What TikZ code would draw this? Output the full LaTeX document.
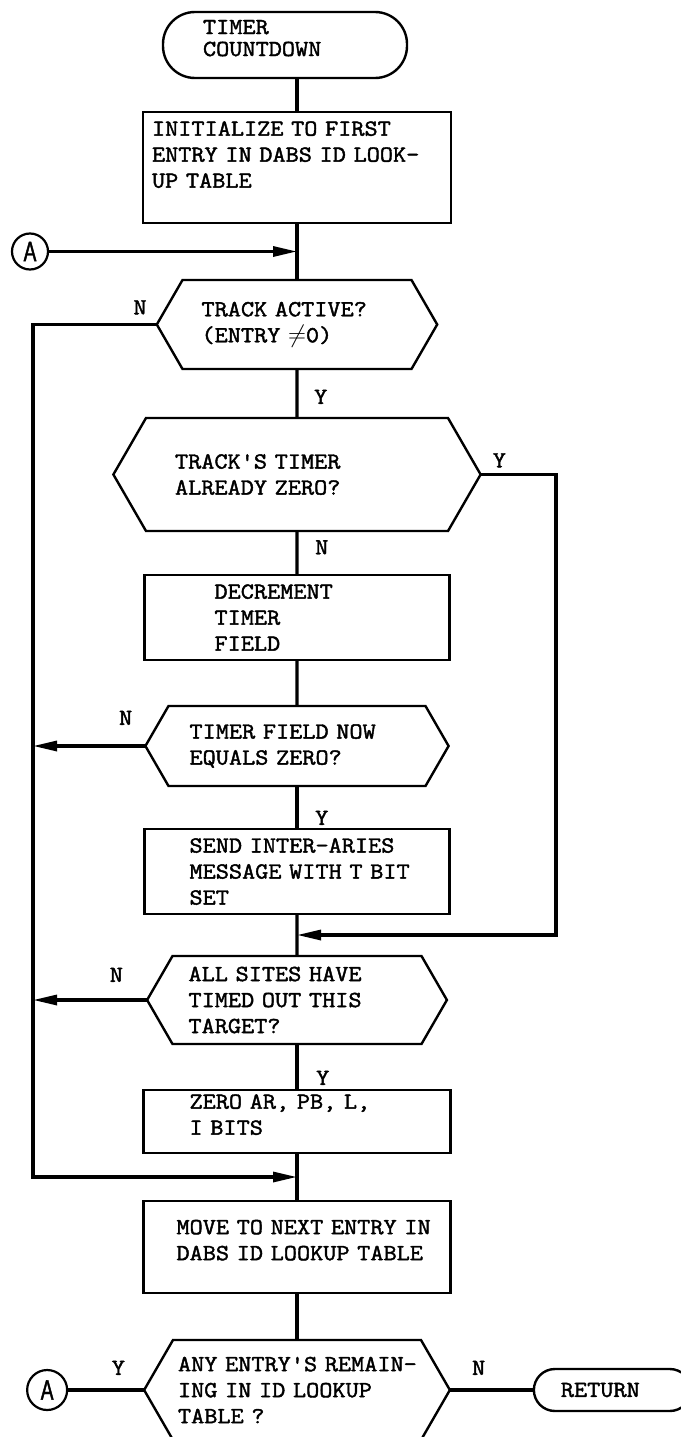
\documentclass[tikz,border=0pt]{standalone}
\usepackage{fontspec}
\usepackage{tikz}
\usetikzlibrary{arrows.meta,positioning,calc,shapes.symbols}
\newfontfamily\flowfont{Latin Modern Mono}[FakeBold=1.8,FakeStretch=1.11]
\newfontfamily\connfont{Liberation Sans}[FakeStretch=0.68,FakeBold=1.5]

\begin{document}
\begin{tikzpicture}[x=1pt, y=-1pt,
    txt/.style={font=\flowfont\fontsize{23}{26}\selectfont, align=left, outer sep=0pt},
    term/.style={txt, draw, line width=2.4pt, rounded corners=#1},
    box/.style={txt, draw, line width=2.4pt},
    decision/.style={txt, draw, line width=2.4pt, shape=signal,
                     signal to=west and east, signal pointer angle=120},
    conn/.style={draw, circle, line width=2.2pt, inner sep=0pt, outer sep=0pt,
                 font=\connfont\fontsize{28}{28}\selectfont},
    lbl/.style={font=\flowfont\fontsize{23}{26}\selectfont, inner sep=0pt},
    flow/.style={line width=3.2pt},
    arr/.style={flow, -{Triangle[length=24pt,width=10pt]}}]
    \useasboundingbox (0,0) rectangle (680,1437);

    \node[box, text width=290pt, inner xsep=9pt, minimum height=111pt] (init) at (297,167.5)
        {INITIALIZE TO FIRST\\\mbox{ENTRY IN DABS ID LOOK-}\\UP TABLE\\\mbox{}};
    \node[term=32pt, text width=164pt, inner xsep=40pt, minimum height=66pt,
          above=34pt of init, xshift=-12pt] (tc) {TIMER\\[-4pt]COUNTDOWN\\[-12pt]\mbox{}};
    \node[decision, text width=191pt, inner xsep=19pt, minimum height=89pt,
          below=57pt of init] (d1) {TRACK ACTIVE?\\(ENTRY $\neq$0)};
    \node[decision, text width=244pt, inner xsep=29pt, minimum height=113pt,
          below=49pt of d1] (d2) {TRACK'S TIMER\\ALREADY ZERO?};
    \node[box, text width=165pt, inner xsep=70pt, minimum height=85pt,
          below=44pt of d2] (dec) {DECREMENT\\TIMER\\FIELD};
    \node[decision, text width=215pt, inner xsep=21pt, minimum height=80pt,
          below=46pt of dec] (d3) {TIMER FIELD NOW\\EQUALS ZERO?};
    \node[box, text width=215pt, inner xsep=45pt, minimum height=85pt,
          below=43pt of d3] (send) {\mbox{SEND INTER-ARIES}\\\mbox{MESSAGE WITH T BIT}\\SET};
    \node[decision, text width=217pt, inner xsep=16pt, minimum height=88pt,
          below=42pt of send] (d4) {ALL SITES HAVE\\TIMED OUT THIS\\TARGET?};
    \node[box, text width=215pt, inner xsep=46pt, minimum height=63pt,
          below=46pt of d4] (zero) {\mbox{ZERO AR, PB, L,}\\I BITS\\[-12pt]\mbox{}};
    \node[box, text width=241pt, inner xsep=33pt, minimum height=92pt,
          below=48pt of zero] (move) {\mbox{MOVE TO NEXT ENTRY IN}\\\mbox{DABS ID LOOKUP TABLE}\\[-12pt]\mbox{}};
    \node[decision, text width=238pt, inner xsep=5pt, minimum height=100pt,
          below=47pt of move] (d5) {\mbox{ANY ENTRY'S REMAIN-}\\\mbox{ING IN ID LOOKUP}\\TABLE ?};
    \node[term=21pt, text width=103pt, inner xsep=27pt, minimum height=42pt,
          right=84pt of d5] (ret) {RETURN};
    \node[conn, minimum size=40pt, left=77pt of d5] (abot) {A};

    \coordinate (ja) at ($(init.south)!0.5!(d1.north)$);
    \coordinate (jb) at ($(send.south)!0.5!(d4.north)$);
    \coordinate (jc) at ($(zero.south)!0.5!(move.north)$);
    \coordinate (lft) at (33,0);
    \coordinate (rgt) at (556,0);
    \node[conn, minimum size=36pt, left=249pt of ja] (atop) {A};

    \draw[flow] (init.north |- tc.south) -- (init.north);
    \draw[flow] (init) -- (d1);
    \draw[arr] (atop) -- (ja);
    \draw[flow] (d1) -- (d2);
    \draw[flow] (d2) -- (dec);
    \draw[flow] (dec) -- (d3);
    \draw[flow] (d3) -- (send);
    \draw[flow] (send) -- (d4);
    \draw[flow] (d4) -- (zero);
    \draw[flow] (zero) -- (move);
    \draw[flow] (move) -- (d5);
    \draw[arr] (d1.west) -| (lft |- jc) -- (jc);
    \draw[arr] (d3.west) -- (d3.west -| lft);
    \draw[arr] (d4.west) -- (d4.west -| lft);
    \draw[arr] (d2.east) -| (rgt |- jb) -- (jb);
    \draw[flow] (d5.west) -- (abot.east);
    \draw[flow] (d5.east) -- (ret.west);

    \node[lbl, above left=10pt and 10pt of d1.west] (n1) {N};
    \node[lbl, above right=14pt and 17pt of d2.north] (y1) {Y};
    \node[lbl, above right=7pt and 12pt of d2.east] (y2) {Y};
    \node[lbl, below right=9pt and 18pt of d2.south] (n2) {N};
    \node[lbl, above left=21pt and 13pt of d3.west] (n3) {N};
    \node[lbl, above right=4pt and 18pt of send.north] (y3) {Y};
    \node[lbl, above left=18pt and 24pt of d4.west] (n4) {N};
    \node[lbl, above right=5pt and 19pt of zero.north] (y4) {Y};
    \node[lbl, above left=15pt and 19pt of d5.west] (y5) {Y};
    \node[lbl, above right=15pt and 22pt of d5.east] (n5) {N};
\end{tikzpicture}
\end{document}
